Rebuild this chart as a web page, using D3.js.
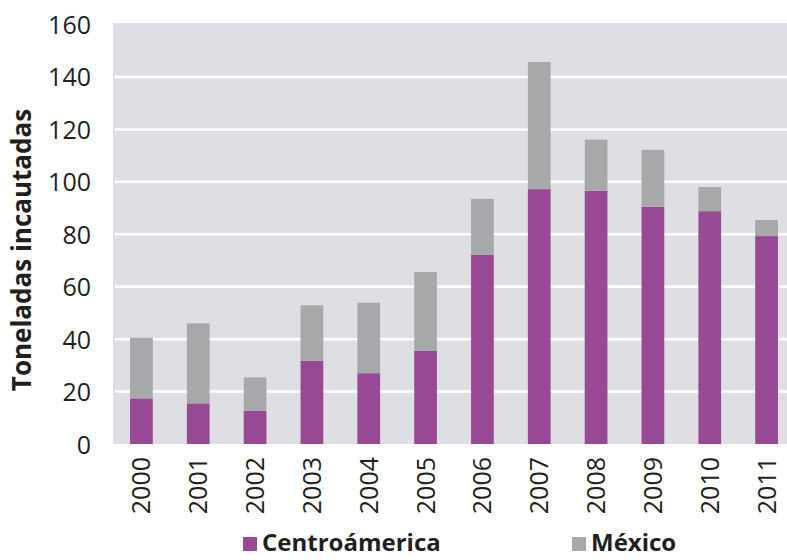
<!DOCTYPE html>
<html>
<head>
<meta charset="utf-8">
<script src="https://cdn.jsdelivr.net/npm/d3@7"></script>
<style>
  body { margin: 0; background: #fff; }
  text { font-family: "Open Sans", sans-serif; fill: #231f20; }
</style>
</head>
<body>
<div id="chart"></div>
<script>
// Data
const years = ["2000","2001","2002","2003","2004","2005","2006","2007","2008","2009","2010","2011"];
const centroamerica = [17.4, 15.5, 12.7, 31.7, 27, 35.5, 72.1, 97.2, 96.6, 90.5, 88.8, 79.3];
const mexico = [23.1, 30.5, 12.7, 21.2, 26.9, 30.1, 21.4, 48.5, 19.5, 21.7, 9.2, 6.1];
const yTicks = [0, 20, 40, 60, 80, 100, 120, 140, 160];
const seriesNames = ["Centroámerica", "México"];
const seriesColors = ["#974a93", "#a6a8a9"];

const width = 787, height = 560;
const plotLeft = 113, plotTop = 23, plotBottom = 444;

const svg = d3.select("#chart").append("svg")
    .attr("width", width)
    .attr("height", height);

let x = d3.scaleBand()
    .domain(years)
    .range([plotLeft, 795])
    .paddingInner(0.6)
    .paddingOuter(0.3);

let y = d3.scaleLinear()
    .domain([0, 160])
    .range([plotBottom, 24.5]);

// plot background
svg.append("rect")
    .attr("x", plotLeft)
    .attr("y", plotTop)
    .attr("width", width - plotLeft)
    .attr("height", plotBottom - plotTop)
    .attr("fill", "#e0dee5");

// gridlines
svg.selectAll(".grid")
    .data(yTicks.filter(d => d > 0 && d < 160))
    .enter().append("line")
    .attr("x1", plotLeft + 2)
    .attr("x2", width)
    .attr("y1", d => y(d))
    .attr("y2", d => y(d))
    .attr("stroke", "#fff")
    .attr("stroke-width", 2.5);

// stacked bars
let rows = years.map((yr, i) => ({ year: yr, c: centroamerica[i], m: mexico[i] }));
let stack = d3.stack().keys(["c", "m"])(rows);

svg.selectAll(".series")
    .data(stack)
    .enter().append("g")
    .attr("fill", (d, i) => seriesColors[i])
    .selectAll("rect")
    .data(d => d)
    .enter().append("rect")
    .attr("x", d => x(d.data.year))
    .attr("width", x.bandwidth())
    .attr("y", d => y(d[1]))
    .attr("height", d => y(d[0]) - y(d[1]));

// y axis labels
let yAxis = svg.append("g")
    .attr("transform", `translate(${plotLeft - 22},0)`)
    .call(d3.axisLeft(y).tickValues(yTicks).tickSize(0).tickPadding(0));
yAxis.select(".domain").remove();
yAxis.selectAll("text")
    .style("font-size", "25px")
    .style("font-family", "'Open Sans', sans-serif")
    .attr("fill", "#231f20")
    .attr("dy", "0.36em");

// x axis labels (rotated)
svg.selectAll(".xlabel")
    .data(years)
    .enter().append("text")
    .attr("transform", d => `translate(${x(d) + x.bandwidth() / 2},${plotBottom + 13}) rotate(-90)`)
    .attr("text-anchor", "end")
    .attr("dy", "0.36em")
    .style("font-size", "25px")
    .text(d => d);

// y title
svg.append("text")
    .attr("transform", `translate(22,250) rotate(-90)`)
    .attr("text-anchor", "middle")
    .attr("dy", "0.36em")
    .style("font-size", "26px")
    .style("font-weight", "bold")
    .text("Toneladas incautadas");

// legend
let legendX = [243, 572];
let legend = svg.selectAll(".legend")
    .data(seriesNames)
    .enter().append("g")
    .attr("transform", (d, i) => `translate(${legendX[i]},537)`);
legend.append("rect")
    .attr("width", 14)
    .attr("height", 14)
    .attr("fill", (d, i) => seriesColors[i]);
legend.append("text")
    .attr("x", 19)
    .attr("y", 14)
    .style("font-size", "24px")
    .style("font-weight", "bold")
    .text(d => d);
</script>
</body>
</html>
